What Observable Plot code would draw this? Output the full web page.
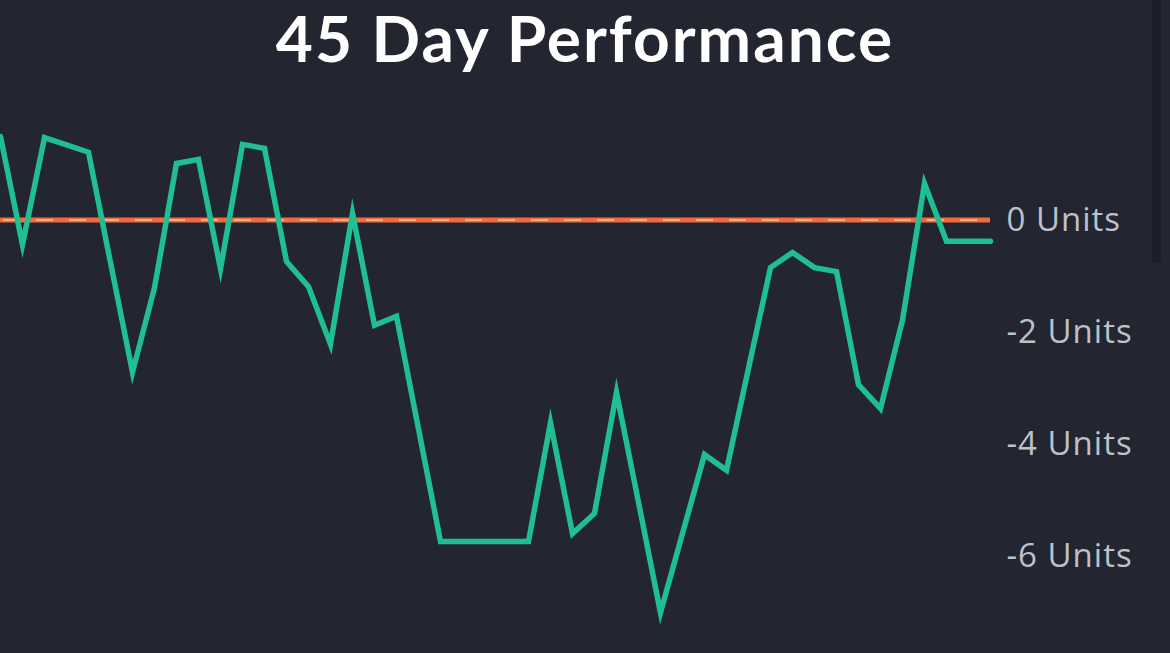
<!DOCTYPE html>
<html><head><meta charset="utf-8">
<script src="https://cdn.jsdelivr.net/npm/d3@7"></script>
<script src="https://cdn.jsdelivr.net/npm/@observablehq/plot@0.6"></script>
<style>
html,body{margin:0;padding:0;background:#232630;}
#wrap{position:relative;width:1170px;height:653px;background:#232630;overflow:hidden;}
#title{height:90px;margin:0;padding:0;text-align:center;color:#ffffff;font-family:Lato,"Open Sans",sans-serif;font-weight:700;font-size:64px;line-height:76px;letter-spacing:2px;}
#scroll{position:absolute;left:1152px;top:0;width:9px;height:263px;background:#1c1f27;}
svg{display:block;}
svg text{letter-spacing:1px;}
</style></head><body>
<div id="wrap">
<div id="title">45 Day Performance</div>
<div id="chart"></div>
<div id="scroll"></div>
</div>
<script>
const days = [1,2,3,4,5,6,7,8,9,10,11,12,13,14,15,16,17,18,19,20,21,22,23,24,25,26,27,28,29,30,31,32,33,34,35,36,37,38,39,40,41,42,43,44,45,46];
const units = [1.49,-0.44,1.47,1.34,1.21,-0.76,-2.72,-1.21,1.01,1.08,-0.87,1.35,1.28,-0.74,-1.19,-2.22,0.12,-1.88,-1.72,-3.73,-5.74,-5.74,-5.74,-5.74,-5.74,-3.62,-5.60,-5.24,-3.08,-5.04,-7.01,-5.60,-4.19,-4.47,-2.65,-0.85,-0.58,-0.85,-0.92,-2.94,-3.37,-1.79,0.65,-0.38,-0.38,-0.38];
const yTicks = [0,-2,-4,-6];
const baseline = [0];

const data = days.map((d,i)=>({day:d, value:units[i]}));

const chart = Plot.plot({
  width:1170,
  height:563,
  marginLeft:0,
  marginRight:180,
  marginTop:0,
  marginBottom:0,
  style:{background:"#232630", fontFamily:"'Open Sans', Lato, sans-serif", overflow:"visible"},
  x:{domain:[days[0], days[days.length-1]], axis:null},
  y:{domain:[-7.5,2], range:[549.5,17.5], label:null},
  marks:[
    Plot.ruleY(baseline,{stroke:"#f26a3d", strokeWidth:5}),
    Plot.ruleY(baseline,{stroke:"#f7c3a6", strokeWidth:1.6, strokeDasharray:"17,16", strokeDashoffset:-3}),
    Plot.line(data,{x:"day", y:"value", stroke:"#1fbf93", strokeWidth:5.5, strokeLinejoin:"miter", strokeMiterlimit:10}),
    Plot.axisY(yTicks,{anchor:"right", label:null, tickSize:0, tickPadding:16, tickFormat:d=>`${d} Units`, fontSize:33, fill:"#bcc1cb", textAnchor:"start"})
  ]
});
document.getElementById("chart").appendChild(chart);
</script>
</body></html>
